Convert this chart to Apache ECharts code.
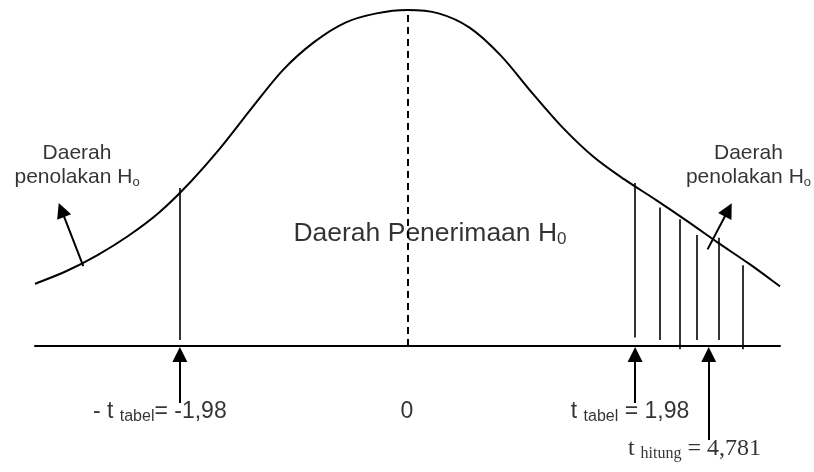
<!DOCTYPE html>
<html>
<head>
<meta charset="utf-8">
<script src="https://cdn.jsdelivr.net/npm/echarts@6/dist/echarts.min.js"></script>
<style>
  html, body { margin: 0; padding: 0; background: #fff; }
  #chart { width: 814px; height: 472px; }
</style>
</head>
<body>
<div id="chart"></div>
<script>
// kurva: t dan tinggi
const curveT = [-3.24, -2.97, -2.70, -2.43, -2.16, -1.89, -1.62, -1.35, -1.08, -0.81, -0.54, -0.27, 0,
  0.27, 0.54, 0.81, 1.08, 1.35, 1.62, 1.89, 2.16, 2.43, 2.70, 2.97, 3.24];
const curveY = [0.074, 0.089, 0.108, 0.131, 0.159, 0.195, 0.237, 0.284, 0.329, 0.362, 0.385, 0.396, 0.400,
  0.396, 0.379, 0.346, 0.302, 0.260, 0.225, 0.198, 0.174, 0.149, 0.123, 0.098, 0.071];

// garis batas kiri
const leftLineT = -1.98;
const leftLineTop = 0.188;
const leftLineBottom = 0.007;

// arsiran daerah penolakan kanan
const hatchT = [1.98, 2.19, 2.37, 2.52, 2.71, 2.92];
const hatchTop = [0.194, 0.165, 0.151, 0.132, 0.129, 0.096];
const hatchBottom = [0.010, 0.007, -0.004, 0.007, 0.007, -0.004];

// panah ke sumbu: posisi, ekor, ujung
const arrowT = [-1.98, 1.98, 2.62];
const arrowFrom = [-0.068, -0.068, -0.112];
const arrowTo = [-0.010, -0.010, -0.010];

// panah miring "Daerah penolakan"
const slantFrom = [[-2.82, 0.095], [2.61, 0.115]];
const slantTo = [[-3.01, 0.162], [2.79, 0.162]];

// teks
const labelTexts = [
  '{a|Daerah}\n{a|penolakan H}{as|o}',
  '{a|Daerah}\n{a|penolakan H}{as|o}',
  '{m|Daerah Penerimaan H}{ms|0}',
  '{b|- t }{bs|tabel}{b|= -1,98}',
  '{b|0}',
  '{b|t }{bs|tabel}{b| = 1,98}',
  '{s|t }{ss|hitung}{s| = 4,781}'
];
const labelT = [-2.87, 2.97, 0.20, -2.15, 0, 1.94, 2.50];
const labelY = [0.215, 0.215, 0.133, -0.079, -0.079, -0.079, -0.123];

const chart = echarts.init(document.getElementById('chart'));

const curveData = curveT.map((t, i) => [t, curveY[i]]);
const vertLines = [{ coords: [[leftLineT, leftLineBottom], [leftLineT, leftLineTop]] }]
  .concat(hatchT.map((t, i) => ({ coords: [[t, hatchBottom[i]], [t, hatchTop[i]]] })));
const arrows = arrowT.map((t, i) => ({ coords: [[t, arrowFrom[i]], [t, arrowTo[i]]] }))
  .concat(slantFrom.map((p, i) => ({ coords: [p, slantTo[i]] })));
const labelData = labelTexts.map((txt, i) => ({
  value: [labelT[i], labelY[i]],
  label: { formatter: txt }
}));

// kurva mulus (catmull-rom) lewat titik-titik data
function renderCurve(params, api) {
  if (params.dataIndex !== 0) return null;
  const p = curveData.map(d => api.coord(d));
  let path = 'M' + p[0][0] + ',' + p[0][1];
  for (let i = 0; i < p.length - 1; i++) {
    const p0 = p[Math.max(i - 1, 0)];
    const p1 = p[i];
    const p2 = p[i + 1];
    const p3 = p[Math.min(i + 2, p.length - 1)];
    const c1x = p1[0] + (p2[0] - p0[0]) / 6;
    const c1y = p1[1] + (p2[1] - p0[1]) / 6;
    const c2x = p2[0] - (p3[0] - p1[0]) / 6;
    const c2y = p2[1] - (p3[1] - p1[1]) / 6;
    path += ' C' + c1x + ',' + c1y + ' ' + c2x + ',' + c2y + ' ' + p2[0] + ',' + p2[1];
  }
  return {
    type: 'path',
    shape: { pathData: path },
    style: { stroke: '#000', fill: 'none', lineWidth: 2 }
  };
}

const sans = 'Liberation Sans, Arial, sans-serif';
const serif = 'Liberation Serif, Times New Roman, serif';

const option = {
  animation: false,
  grid: { left: 35, right: 34, top: 10, bottom: 0 },
  xAxis: {
    type: 'value',
    min: -3.24,
    max: 3.24,
    axisLine: { show: true, onZero: true, lineStyle: { color: '#000', width: 2 } },
    axisTick: { show: false },
    axisLabel: { show: false },
    splitLine: { show: false }
  },
  yAxis: {
    type: 'value',
    min: -0.15,
    max: 0.4,
    show: false
  },
  series: [
    {
      name: 'kurva',
      type: 'custom',
      data: curveData,
      encode: { x: 0, y: 1 },
      renderItem: renderCurve,
      silent: true
    },
    {
      name: 'tengah',
      type: 'lines',
      coordinateSystem: 'cartesian2d',
      data: [{ coords: [[0, 0], [0, 0.4]] }],
      lineStyle: { color: '#000', width: 2, type: [7, 5], opacity: 1 }
    },
    {
      name: 'batas',
      type: 'lines',
      coordinateSystem: 'cartesian2d',
      data: vertLines,
      lineStyle: { color: '#000', width: 1.6, opacity: 1 }
    },
    {
      name: 'panah',
      type: 'lines',
      coordinateSystem: 'cartesian2d',
      data: arrows,
      symbol: ['none', 'triangle'],
      symbolSize: 15,
      lineStyle: { color: '#000', width: 2, opacity: 1 }
    },
    {
      name: 'teks',
      type: 'scatter',
      data: labelData,
      symbolSize: 1,
      itemStyle: { color: 'rgba(0,0,0,0)' },
      silent: true,
      label: {
        show: true,
        position: [0, 0],
        align: 'center',
        verticalAlign: 'middle',
        color: '#000',
        textBorderWidth: 0,
        rich: {
          a: { fontFamily: sans, fontSize: 21, lineHeight: 24, color: '#000', textBorderWidth: 0 },
          as: { fontFamily: sans, fontSize: 13, lineHeight: 10, verticalAlign: 'bottom', color: '#000', textBorderWidth: 0 },
          m: { fontFamily: sans, fontSize: 26.5, lineHeight: 28, color: '#000', textBorderWidth: 0 },
          ms: { fontFamily: sans, fontSize: 17, lineHeight: 12, verticalAlign: 'bottom', color: '#000', textBorderWidth: 0 },
          b: { fontFamily: sans, fontSize: 23, lineHeight: 26, color: '#000', textBorderWidth: 0 },
          bs: { fontFamily: sans, fontSize: 16, lineHeight: 10, verticalAlign: 'bottom', color: '#000', textBorderWidth: 0 },
          s: { fontFamily: serif, fontSize: 24, lineHeight: 26, color: '#000', textBorderWidth: 0 },
          ss: { fontFamily: serif, fontSize: 16, lineHeight: 8, verticalAlign: 'bottom', color: '#000', textBorderWidth: 0 }
        }
      }
    }
  ]
};

chart.setOption(option);
</script>
</body>
</html>
